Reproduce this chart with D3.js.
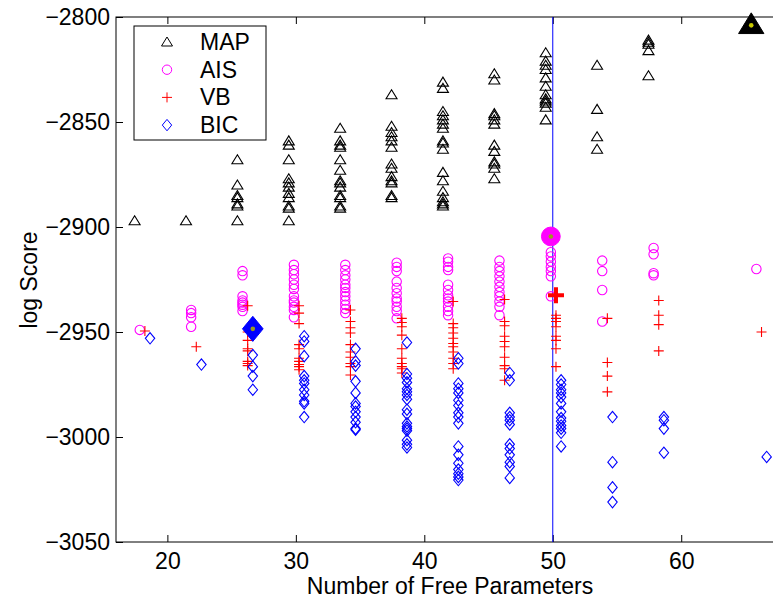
<!DOCTYPE html>
<html>
<head>
<meta charset="utf-8">
<script src="https://cdn.jsdelivr.net/npm/d3@7"></script>
<style>
  body { margin: 0; background: white; }
  text { font-family: "Liberation Sans", Arial, Helvetica, sans-serif; }
</style>
</head>
<body>
<div id="chart"></div>
<script>
// x position of each group of runs (MAP column), other methods sit a bit to the right
var columns = [17.45, 21.45, 25.45, 29.45, 33.45, 37.45, 41.45, 45.45, 49.45, 53.45, 57.45, 65.45];
var seriesNames = ['MAP', 'AIS', 'VB', 'BIC'];
var seriesShift = [0, 0.4, 0.8, 1.2];
var xTicks = [20, 30, 40, 50, 60];
var yTicks = [-3050, -3000, -2950, -2900, -2850, -2800];
var markLine = 50;

var mapScores = [
    [-2897],
    [-2897],
    [-2868, -2880, -2885, -2886, -2889, -2890, -2897],
    [-2859, -2861, -2868, -2877, -2879, -2881, -2884, -2886, -2890, -2891, -2897],
    [-2853, -2859, -2861, -2862, -2868, -2873, -2878, -2879, -2881, -2885, -2886, -2890, -2891],
    [-2837, -2852, -2855, -2857, -2859, -2862, -2870, -2872, -2876, -2878, -2879, -2885, -2886],
    [-2831, -2834, -2845, -2847, -2849, -2851, -2853, -2859, -2860, -2863, -2874, -2878, -2883, -2886, -2888, -2889, -2890],
    [-2827, -2830, -2846, -2847, -2849, -2851, -2861, -2864, -2869, -2870, -2872, -2877],
    [-2817, -2821, -2823, -2825, -2829, -2833, -2837, -2839, -2840, -2841, -2843, -2849],
    [-2823, -2844, -2857, -2863],
    [-2811, -2812, -2813, -2816, -2828],
    []
];
var aisScores = [
    [-2949],
    [-2939.5, -2941, -2943, -2947.5],
    [-2921, -2923, -2933, -2935, -2936, -2937, -2938, -2940],
    [-2918, -2920.5, -2922.5, -2925, -2927.5, -2929.5, -2933, -2935, -2936, -2938, -2939.5, -2943],
    [-2918, -2920.5, -2923, -2925, -2927.5, -2929, -2931, -2933, -2935, -2937, -2939, -2941],
    [-2917, -2919, -2921, -2926, -2929, -2931.5, -2934, -2935.5, -2938, -2940, -2943.5],
    [-2915, -2916.5, -2919, -2920.5, -2927.5, -2930, -2932.5, -2934, -2935.5, -2938, -2940, -2942],
    [-2916, -2919, -2921, -2923.5, -2926, -2928.5, -2931, -2933, -2935.5, -2938, -2942],
    [-2912, -2914, -2916.5, -2919, -2921, -2923.5, -2933],
    [-2916, -2921, -2930, -2945],
    [-2910, -2913, -2922, -2923],
    [-2920]
];
var vbScores = [
    [-2949.5],
    [-2957],
    [-2937.5, -2950, -2954, -2958, -2959, -2964, -2965, -2966],
    [-2937.5, -2941, -2946, -2956, -2958, -2962.5, -2964, -2965.5, -2966.5, -2968],
    [-2939.5, -2945, -2948, -2950.5, -2956, -2959.5, -2962, -2965, -2966.5, -2970.5],
    [-2943.5, -2945.5, -2947.5, -2951.5, -2958, -2962.5, -2965, -2966.5, -2967.5, -2969.5],
    [-2935.5, -2946, -2948, -2950.5, -2953, -2955.5, -2957, -2959.5, -2962.5, -2965, -2967.5],
    [-2934.5, -2945, -2947, -2952, -2954.5, -2957, -2962, -2966, -2967.5, -2973],
    [-2942, -2943.5, -2945, -2947.5, -2952, -2954, -2958, -2966.5],
    [-2943.5, -2964.5, -2971, -2978.5],
    [-2935, -2942, -2946.5, -2959],
    [-2950]
];
var bicScores = [
    [-2953],
    [-2965.5],
    [-2961, -2966.5, -2971, -2977.5],
    [-2952, -2954.5, -2961.5, -2971, -2973, -2974.5, -2977.5, -2980, -2983, -2984, -2990.5],
    [-2958, -2964, -2966, -2973.5, -2979, -2984, -2985.5, -2988, -2990.5, -2993, -2996, -2996.5],
    [-2955, -2970, -2972, -2974, -2977, -2978.5, -2980, -2982, -2987, -2989, -2993.5, -2995, -2996, -2997, -3001.5, -3003.5, -3005],
    [-2962.5, -2965, -2974.5, -2977, -2979, -2982.5, -2985, -2988.5, -2990.5, -2993.5, -3004.5, -3008.5, -3012.5, -3015.5, -3017.5, -3019, -3020.5],
    [-2969.5, -2973, -2988.5, -2990.5, -2992, -2994, -3003.5, -3005.5, -3008.5, -3012, -3014, -3019.5],
    [-2973, -2975, -2977.5, -2979, -2981, -2984, -2988, -2991, -2992.5, -2994.5, -2996, -2998, -3004.5],
    [-2990.5, -3012, -3024, -3031],
    [-2990.5, -2992, -2996, -3007.5],
    [-3009.5]
];
// best run of each method (column index and score)
var bestColumn = [11, 8, 8, 2];
var bestScore = [-2803.5, -2904.5, -2932.5, -2948.5];

var allScores = [mapScores, aisScores, vbScores, bicScores];
var colors = ['#000000', '#ff00ff', '#ff0000', '#0000ff'];

var width = 773, height = 599;
var margin = { top: 17, left: 116, bottom: 542, right: 784 };

var xS = d3.scaleLinear().domain([16, 68]).range([margin.left, margin.right]);
var yS = d3.scaleLinear().domain([-3050, -2800]).range([margin.bottom, margin.top]);

// marker shapes, s = scale
function markerPath(k, s) {
    if (k === 0) return 'M0,' + (-5 * s) + 'L' + (5.5 * s) + ',' + (4 * s) + 'L' + (-5.5 * s) + ',' + (4 * s) + 'Z';
    if (k === 1) return d3.arc()({ innerRadius: 0, outerRadius: 4.7 * s, startAngle: 0, endAngle: 2 * Math.PI }) + 'Z';
    if (k === 2) return 'M' + (-5 * s) + ',0H' + (5 * s) + 'M0,' + (-5 * s) + 'V' + (5 * s);
    return 'M0,' + (-5.7 * s) + 'L' + (4.7 * s) + ',0L0,' + (5.7 * s) + 'L' + (-4.7 * s) + ',0Z';
}

var svg = d3.select('#chart')
    .append('svg')
    .attr('width', width)
    .attr('height', height);

// axes
svg.append('g')
    .attr('transform', 'translate(' + margin.left + ',0)')
    .call(d3.axisLeft(yS).tickValues(yTicks).tickFormat(d3.format('d')).tickSize(-7).tickPadding(6))
    .call(function(g) { g.select('.domain').remove(); })
    .selectAll('text').style('font-size', '23px').attr('fill', 'black');
svg.append('g')
    .attr('transform', 'translate(0,' + margin.bottom + ')')
    .call(d3.axisBottom(xS).tickValues(xTicks).tickSize(-7).tickPadding(11))
    .call(function(g) { g.select('.domain').remove(); })
    .selectAll('text').style('font-size', '23px').attr('fill', 'black');
svg.append('g')
    .attr('transform', 'translate(0,' + margin.top + ')')
    .call(d3.axisTop(xS).tickValues(xTicks).tickSize(-7).tickFormat(''))
    .call(function(g) { g.select('.domain').remove(); });

svg.append('rect')
    .attr('x', margin.left)
    .attr('y', margin.top)
    .attr('width', margin.right - margin.left)
    .attr('height', margin.bottom - margin.top)
    .attr('fill', 'none')
    .attr('stroke', 'black')
    .attr('stroke-width', 1);

svg.append('line')
    .attr('x1', xS(markLine)).attr('x2', xS(markLine))
    .attr('y1', margin.top).attr('y2', margin.bottom)
    .attr('stroke', '#0000ff')
    .attr('stroke-width', 1);

// small markers
allScores.forEach(function(scores, k) {
    var pts = [];
    columns.forEach(function(c, i) {
        scores[i].forEach(function(s) { pts.push({ x: c + seriesShift[k], y: s }); });
    });
    svg.append('g').selectAll('path')
        .data(pts)
        .enter()
        .append('path')
        .attr('d', markerPath(k, 1))
        .attr('transform', function(d) { return 'translate(' + xS(d.x) + ',' + yS(d.y) + ')'; })
        .attr('fill', 'none')
        .attr('stroke', colors[k])
        .attr('stroke-width', 1.1);
});

// best markers
var best = bestColumn.map(function(c, k) {
    return { k: k, x: columns[c] + seriesShift[k], y: bestScore[k] };
});
var bigScale = [2.3, 2, 1.6, 2.2];
var bg = svg.append('g').selectAll('g')
    .data(best)
    .enter()
    .append('g')
    .attr('transform', function(d) { return 'translate(' + xS(d.x) + ',' + yS(d.y) + ')'; });
bg.append('path')
    .attr('d', function(d) { return markerPath(d.k, bigScale[d.k]); })
    .attr('fill', function(d) { return d.k === 2 ? 'none' : colors[d.k]; })
    .attr('stroke', function(d) { return colors[d.k]; })
    .attr('stroke-width', function(d) { return d.k === 2 ? 4 : 1; });
bg.filter(function(d) { return d.k !== 2; })
    .append('circle')
    .attr('cy', function(d) { return d.k === 0 ? 1 : 0; })
    .attr('r', 2.3)
    .attr('fill', function(d) { return d.k === 0 ? '#c8c800' : '#9a9a20'; });

// legend
var legend = svg.append('g');
legend.append('rect')
    .attr('x', 134).attr('y', 26)
    .attr('width', 132).attr('height', 114)
    .attr('fill', 'white')
    .attr('stroke', 'black')
    .attr('stroke-width', 1);
var items = legend.selectAll('g.item')
    .data(seriesNames)
    .enter()
    .append('g')
    .attr('class', 'item')
    .attr('transform', function(d, i) { return 'translate(0,' + (42 + i * 27.7) + ')'; });
items.append('path')
    .attr('d', function(d, i) { return markerPath(i, 1); })
    .attr('transform', 'translate(167,0)')
    .attr('fill', 'none')
    .attr('stroke', function(d, i) { return colors[i]; });
items.append('text')
    .attr('x', 200)
    .attr('y', 8)
    .style('font-size', '23px')
    .text(function(d) { return d; });

// axis titles
svg.append('text')
    .attr('x', (margin.left + margin.right) / 2)
    .attr('y', 594)
    .attr('text-anchor', 'middle')
    .style('font-size', '23px')
    .text('Number of Free Parameters');
svg.append('text')
    .attr('transform', 'translate(37,280) rotate(-90)')
    .attr('text-anchor', 'middle')
    .style('font-size', '23px')
    .text('log Score');
</script>
</body>
</html>
